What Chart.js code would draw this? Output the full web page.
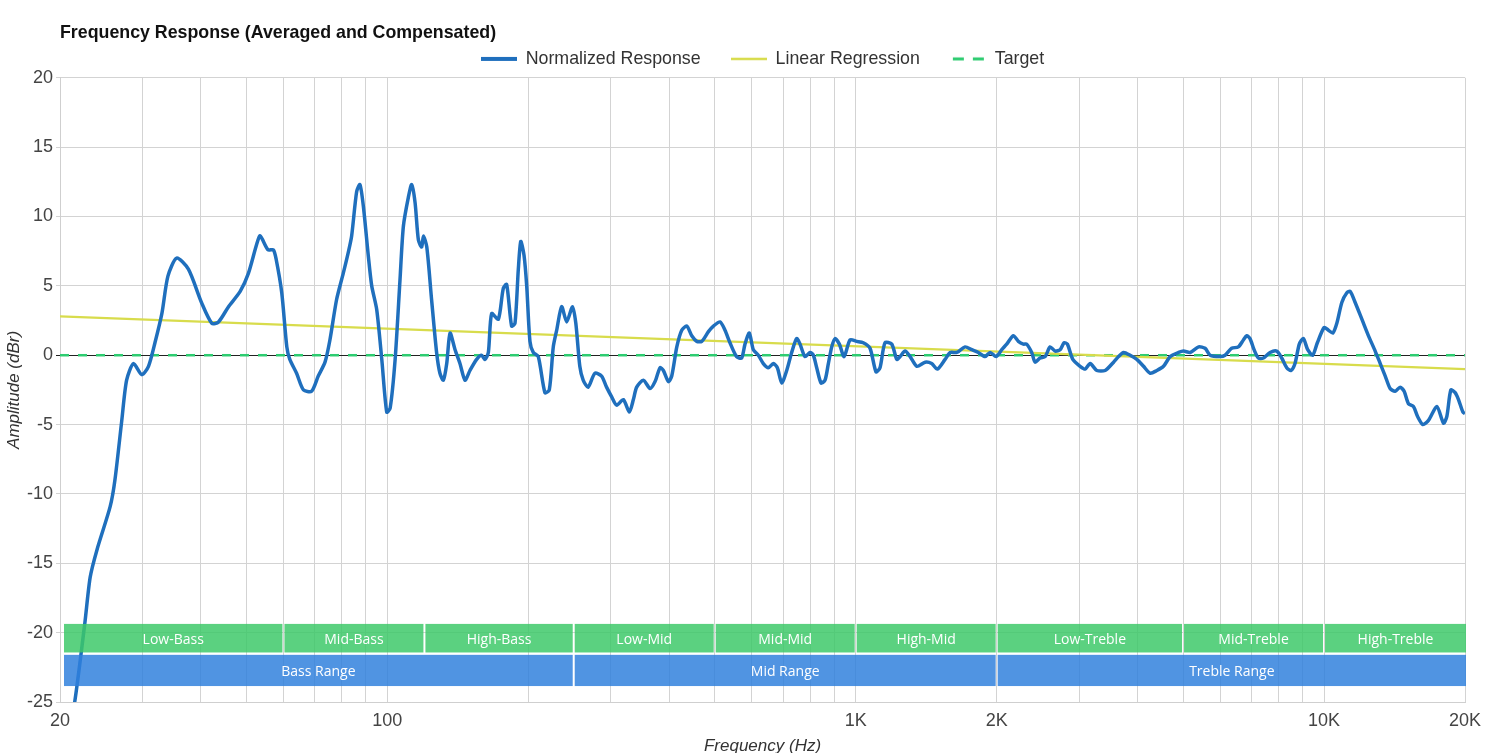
<!DOCTYPE html>
<html>
<head>
<meta charset="utf-8">
<script src="https://cdn.jsdelivr.net/npm/chart.js@4.4.1/dist/chart.umd.min.js"></script>
<style>
  html, body { margin: 0; padding: 0; background: #fff; }
  #wrap { width: 1497px; height: 753px; }
</style>
</head>
<body>
<div id="wrap"><canvas id="frChart"></canvas></div>
<script>
const freqs = [
    20, 21.5, 22.6, 23.2, 24.0, 25.6, 26.2, 27.1, 27.75, 28.7, 29.9, 30.9, 31.9, 33.0, 34.0, 35.5, 37.6,
    40.1, 42.2, 43.6, 45.8, 48.5, 50.5, 52.6, 53.5, 55.6, 57.1, 57.9, 59.5, 61.0, 61.9, 64.0, 66.2,
    68.9, 71.2, 73.6, 75.4, 77.9, 80.5, 82.5, 83.9, 86.0, 87.4, 88.9, 91.1, 92.6, 94.9, 97.3, 99.7,
    101.4, 103.9, 106.4, 108.2, 110.9, 112.7, 114.6, 116.5, 118.4, 119.4, 121.4, 124.3, 127.4, 129.5,
    131.7, 133.9, 136.1, 139.5, 142.9, 146.5, 150.1, 155.1, 158.9, 161.6, 164.3, 167.0, 172.6, 176.8,
    179.8, 184.2, 187.3, 190.4, 192.7, 195.8, 198.4, 201.6, 204.9, 210.0, 217.0, 221.7, 226.1, 229.9,
    235.6, 241.5, 248.5, 252.6, 257.6, 261.9, 268.4, 277.4, 286.7, 293.8, 301.3, 308.8, 319.1, 328.6,
    335.2, 340.7, 352.1, 363.9, 372.9, 382.2, 388.5, 398.2, 404.8, 415, 425.2, 435.9, 446.7, 457.8,
    469.2, 484.8, 496.8, 513.3, 526, 539, 556.9, 570.8, 580.3, 592.7, 604.5, 619.6, 635, 650.9, 667,
    680.4, 695.1, 712.4, 730, 748.2, 760.6, 779.6, 798.9, 812.2, 825.6, 843.4, 860.1, 874.3, 888.9,
    903.6, 923, 944.5, 972.7, 1004.8, 1038, 1073, 1105, 1127, 1155, 1194, 1224, 1244, 1275, 1307, 1351,
    1407, 1453, 1494, 1552, 1591, 1644, 1712, 1770, 1828, 1889, 1937, 1995, 2051, 2101, 2171, 2225,
    2281, 2318, 2376, 2416, 2476, 2538, 2601, 2666, 2732, 2786, 2832, 2908, 3015, 3090, 3167, 3272,
    3409, 3554, 3642, 3733, 3855, 3984, 4117, 4255, 4397, 4542, 4694, 4891, 5013, 5181, 5398, 5572,
    5713, 5998, 6148, 6349, 6562, 6727, 6838, 6950, 7089, 7242, 7421, 7670, 7925, 8122, 8324, 8502,
    8670, 8856, 9033, 9229, 9459, 9678, 10006, 10220, 10443, 10650, 10915, 11188, 11373, 11655, 12045,
    12444, 12861, 13183, 13512, 13840, 14188, 14540, 14829, 15147, 15523, 15832, 16257, 16714, 17414,
    17994, 18294, 18657, 19056, 19370, 19794, 20000
];
const response = [
    -31, -25, -19.3, -16.0, -14.0, -10.9, -9.0, -4.7, -1.8, -0.6, -1.4, -0.8, 0.9, 3.0, 5.7, 7.0, 6.2,
    3.8, 2.3, 2.4, 3.5, 4.6, 5.9, 8.0, 8.6, 7.6, 7.6, 6.9, 4.5, 0.6, -0.3, -1.3, -2.5,
    -2.6, -1.5, -0.5, 1.1, 4.0, 5.9, 7.4, 8.6, 11.8, 12.3, 10.7, 7.1, 5.0, 3.3, -0.3, -4.1,
    -3.8, -0.3, 5.4, 9.3, 11.4, 12.3, 11.0, 8.3, 7.8, 8.6, 7.8, 4.0, 0.2, -1.3,
    -1.8, -0.6, 1.6, 0.4, -0.6, -1.8, -1.1, -0.3, 0.0, -0.3, 0.2, 3.0, 2.6, 4.8,
    5.1, 2.1, 2.3, 6.2, 8.2, 7.2, 5.0, 1.0, 0.2, -0.1, -2.7, -2.5, 0.6, 1.8,
    3.5, 2.4, 3.5, 2.3, -0.8, -1.8, -2.3, -1.3, -1.5, -2.3, -3.0, -3.6, -3.2, -4.1,
    -3.2, -2.3, -1.8, -2.4, -1.9, -0.9, -1.1, -1.9, -1.5, 0.6, 1.8, 2.1, 1.4, 1.0,
    1.0, 1.7, 2.1, 2.4, 1.8, 0.9, -0.1, -0.2, 0.8, 1.6, 0.4, 0.0, -0.6, -0.9, -0.6,
    -0.9, -2.0, -1.1, 0.2, 1.2, 0.8, -0.1, 0.2, 0.0, -0.9, -2.0, -1.8, -0.6, 0.6,
    1.2, 0.8, -0.1, 1.1, 1.0, 0.9, 0.5, -1.2, -0.9, 0.9, 0.8, -0.3, -0.1, 0.3, -0.1, -0.8,
    -0.5, -0.6, -1.0, -0.3, 0.2, 0.2, 0.6, 0.4, 0.2, -0.1, 0.2, -0.1, 0.4, 0.8, 1.4, 1.0,
    0.8, 0.8, 0.2, -0.5, -0.2, -0.1, 0.6, 0.3, 0.4, 0.9, 0.8, -0.3, -0.8, -1.0, -0.6, -1.1,
    -1.1, -0.5, -0.1, 0.2, 0.0, -0.3, -0.8, -1.3, -1.1, -0.8, -0.1, 0.2, 0.3, 0.2, 0.6, 0.5,
    0.0, -0.1, 0.0, 0.5, 0.6, 1.1, 1.4, 1.2, 0.4, -0.2, -0.2, 0.2, 0.3, -0.2, -0.9, -1.1,
    -0.6, 0.8, 1.2, 0.4, 0.0, 0.9, 2.0, 1.8, 1.6, 2.3, 3.8, 4.5, 4.6, 3.8, 2.6,
    1.4, 0.3, -0.6, -1.5, -2.4, -2.6, -2.3, -2.6, -3.5, -3.7, -4.4, -5.0, -4.7, -3.7,
    -4.9, -4.4, -2.5, -2.7, -3.2, -4.1, -4.2
];

// regression line end points and target
const regressionFreqs = [20, 20000];
const regressionValues = [2.8, -1.0];
const targetFreqs = [20, 20000];
const targetValues = [0, 0];

// x grid / tick labels
const gridFreqs = [20, 30, 40, 50, 60, 70, 80, 90, 100, 200, 300, 400, 500, 600, 700, 800, 900,
    1000, 2000, 3000, 4000, 5000, 6000, 7000, 8000, 9000, 10000, 20000];
const labelFreqs = [20, 100, 1000, 2000, 10000, 20000];
const labelTexts = ["20", "100", "1K", "2K", "10K", "20K"];

// frequency bands
const bandNames = ["Low-Bass", "Mid-Bass", "High-Bass", "Low-Mid", "Mid-Mid", "High-Mid", "Low-Treble", "Mid-Treble", "High-Treble"];
const bandEdges = [20, 60, 120, 250, 500, 1000, 2000, 5000, 10000, 20000];
const rangeNames = ["Bass Range", "Mid Range", "Treble Range"];
const rangeEdges = [20, 250, 2000, 20000];

const FONT = "'Liberation Sans', Arial, sans-serif";
const BLUE = "#1f6fbd", YELLOW = "#d8dc4c", GREEN = "#2ecc71";

const toPoints = (xs, ys) => xs.map((x, i) => ({ x: x, y: ys[i] }));

// little line samples for the legend
function legendSample(color, width, dash) {
    const c = document.createElement("canvas");
    c.width = 36;
    c.height = 8;
    const g = c.getContext("2d");
    g.strokeStyle = color;
    g.lineWidth = width;
    g.setLineDash(dash);
    g.beginPath();
    g.moveTo(dash.length ? 3 : 0, 4);
    g.lineTo(36, 4);
    g.stroke();
    return c;
}
const samples = [
    legendSample(BLUE, 4, []),
    legendSample(YELLOW, 2.5, []),
    legendSample(GREEN, 3, [11, 9])
];

// title at chart area left, legend centred on the plot
const titlePlugin = {
    id: "leftTitle",
    afterLayout(chart) {
        const lg = chart.legend, a = chart.chartArea;
        const shift = (a.left + a.right) / 2 - (lg.left + lg.right) / 2;
        lg.left += shift;
        lg.right += shift;
    },
    afterDraw(chart) {
        const ctx = chart.ctx;
        ctx.save();
        ctx.font = "bold 17.8px " + FONT;
        ctx.fillStyle = "#111";
        ctx.textBaseline = "middle";
        ctx.textAlign = "left";
        ctx.fillText("Frequency Response (Averaged and Compensated)", chart.chartArea.left, 33);
        ctx.restore();
    }
};

// the coloured band boxes along the bottom
const bandPlugin = {
    id: "bands",
    afterDatasetsDraw(chart) {
        const ctx = chart.ctx;
        const xs = chart.scales.x, ys = chart.scales.y;
        const area = chart.chartArea;
        function row(names, edges, top, bottom, color) {
            const y1 = ys.getPixelForValue(top), y2 = ys.getPixelForValue(bottom);
            names.forEach((name, i) => {
                let x1 = xs.getPixelForValue(edges[i]) + 1;
                let x2 = xs.getPixelForValue(edges[i + 1]) - 1;
                if (i === 0) x1 = area.left + 4;
                if (i === names.length - 1) x2 = area.right + 1;
                ctx.fillStyle = color;
                ctx.fillRect(x1, y1, x2 - x1, y2 - y1);
                ctx.fillStyle = "#fff";
                ctx.fillText(name, (x1 + x2) / 2, (y1 + y2) / 2 + 1.5);
            });
        }
        ctx.save();
        ctx.font = "14px 'Open Sans', sans-serif";
        ctx.textAlign = "center";
        ctx.textBaseline = "middle";
        row(bandNames, bandEdges, -19.37, -21.43, "rgba(59, 200, 104, 0.84)");
        row(rangeNames, rangeEdges, -21.6, -23.85, "rgba(46, 128, 220, 0.84)");
        ctx.restore();
    }
};

new Chart(document.getElementById("frChart"), {
    type: "line",
    data: {
        datasets: [
            {
                label: "Normalized Response",
                data: toPoints(freqs, response),
                borderColor: BLUE,
                backgroundColor: BLUE,
                borderWidth: 3.5,
                pointRadius: 0,
                tension: 0.25
            },
            {
                label: "Linear Regression",
                data: toPoints(regressionFreqs, regressionValues),
                borderColor: YELLOW,
                backgroundColor: YELLOW,
                borderWidth: 2.4,
                pointRadius: 0
            },
            {
                label: "Target",
                data: toPoints(targetFreqs, targetValues),
                borderColor: GREEN,
                backgroundColor: GREEN,
                borderWidth: 2.5,
                borderDash: [9, 9],
                pointRadius: 0
            }
        ]
    },
    options: {
        responsive: true,
        maintainAspectRatio: false,
        animation: false,
        layout: { padding: { left: 0, right: 32, top: 20, bottom: 0 } },
        plugins: {
            title: { display: false },
            tooltip: { enabled: false },
            legend: {
                display: true,
                position: "top",
                labels: {
                    usePointStyle: true,
                    pointStyleWidth: 36,
                    boxHeight: 17.8,
                    padding: 30,
                    color: "#333",
                    font: { family: FONT, size: 17.8 },
                    generateLabels: (chart) => {
                        const items = Chart.defaults.plugins.legend.labels.generateLabels(chart);
                        items.forEach(it => { it.pointStyle = samples[it.datasetIndex]; });
                        return items;
                    }
                }
            }
        },
        scales: {
            x: {
                type: "logarithmic",
                min: 20,
                max: 20000,
                afterBuildTicks: (scale) => { scale.ticks = gridFreqs.map(v => ({ value: v })); },
                afterFit: (scale) => { scale.height = 51; },
                ticks: {
                    autoSkip: false,
                    maxRotation: 0,
                    padding: 8,
                    color: "#444",
                    font: { family: FONT, size: 18 },
                    callback: (v) => {
                        const i = labelFreqs.indexOf(v);
                        return i >= 0 ? labelTexts[i] : "";
                    }
                },
                grid: { color: "#d3d3d3", lineWidth: 1, drawTicks: false },
                border: { color: "#cfcfcf" },
                title: {
                    display: true,
                    text: "Frequency (Hz)",
                    color: "#333",
                    font: { family: FONT, size: 17, style: "italic" },
                    padding: { top: 0, bottom: -3 }
                }
            },
            y: {
                min: -25,
                max: 20,
                afterFit: (scale) => { scale.width = 60; },
                ticks: {
                    stepSize: 5,
                    padding: 3,
                    color: "#444",
                    font: { family: FONT, size: 18 }
                },
                grid: {
                    color: (c) => (c.tick && c.tick.value === 0 ? "#222" : "#d3d3d3"),
                    lineWidth: 1,
                    tickLength: 4
                },
                border: { color: "#cfcfcf" },
                title: {
                    display: true,
                    text: "Amplitude (dBr)",
                    color: "#333",
                    font: { family: FONT, size: 17, style: "italic" },
                    padding: { top: 4, bottom: 0 }
                }
            }
        }
    },
    plugins: [titlePlugin, bandPlugin]
});
</script>
</body>
</html>
